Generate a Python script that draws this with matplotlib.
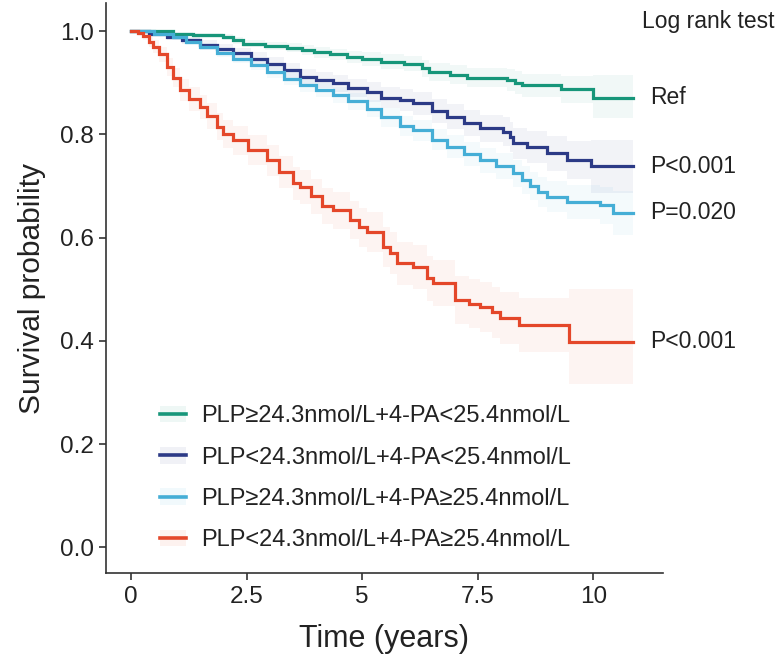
import matplotlib
matplotlib.use("Agg")
import matplotlib.pyplot as plt
from matplotlib.patches import Patch
from matplotlib.lines import Line2D
from matplotlib import font_manager
import numpy as np

# ---- data (step points of each KM curve) ----
labels = [
    "PLP\u226524.3nmol/L+4-PA<25.4nmol/L",
    "PLP<24.3nmol/L+4-PA<25.4nmol/L",
    "PLP\u226524.3nmol/L+4-PA\u226525.4nmol/L",
    "PLP<24.3nmol/L+4-PA\u226525.4nmol/L",
]
p_labels = ["Ref", "P<0.001", "P=0.020", "P<0.001"]
end_time = 10.85

green_t = [0, 0.9, 1.35, 2.0, 2.2, 2.43, 2.9, 3.37, 3.7, 3.95, 4.3, 4.67, 5.0,
           5.4, 5.9, 6.3, 6.45, 6.9, 7.27, 8.13, 8.3, 8.46, 9.29, 10.0]
green_s = [1.0, 0.995, 0.992, 0.988, 0.982, 0.976, 0.972, 0.968, 0.963, 0.959,
           0.955, 0.95, 0.946, 0.941, 0.937, 0.928, 0.921, 0.916, 0.91, 0.905,
           0.9, 0.895, 0.887, 0.871]
green_lo = [1.0, 0.991, 0.987, 0.982, 0.975, 0.969, 0.964, 0.959, 0.953, 0.949,
            0.944, 0.938, 0.933, 0.927, 0.922, 0.912, 0.904, 0.898, 0.891, 0.884,
            0.878, 0.872, 0.86, 0.831]
green_hi = [1.0, 0.999, 0.997, 0.994, 0.989, 0.983, 0.98, 0.977, 0.973, 0.969,
            0.966, 0.962, 0.959, 0.955, 0.952, 0.944, 0.938, 0.934, 0.929, 0.926,
            0.922, 0.918, 0.914, 0.915]

navy_t = [0, 0.4, 0.77, 1.1, 1.49, 1.85, 2.2, 2.6, 2.94, 3.3, 3.66, 4.0, 4.37,
          4.7, 5.1, 5.4, 5.82, 6.1, 6.5, 6.83, 7.2, 7.55, 8.05, 8.2, 8.27, 8.56,
          9.0, 9.43, 9.94]
navy_s = [1.0, 0.995, 0.989, 0.982, 0.973, 0.965, 0.957, 0.947, 0.937, 0.924,
          0.911, 0.905, 0.899, 0.89, 0.882, 0.871, 0.866, 0.86, 0.846, 0.834,
          0.822, 0.812, 0.805, 0.795, 0.783, 0.776, 0.763, 0.75, 0.738]
navy_lo = [1.0, 0.991, 0.983, 0.975, 0.964, 0.955, 0.946, 0.935, 0.924, 0.91,
           0.896, 0.889, 0.882, 0.872, 0.863, 0.851, 0.845, 0.838, 0.823, 0.81,
           0.797, 0.786, 0.777, 0.766, 0.753, 0.745, 0.73, 0.713, 0.686]
navy_hi = [1.0, 0.999, 0.995, 0.989, 0.982, 0.975, 0.968, 0.959, 0.95, 0.938,
           0.926, 0.921, 0.916, 0.908, 0.901, 0.891, 0.887, 0.882, 0.869, 0.858,
           0.847, 0.838, 0.833, 0.824, 0.813, 0.807, 0.796, 0.787, 0.789]

blue_t = [0, 0.5, 0.9, 1.2, 1.49, 1.85, 2.2, 2.6, 2.94, 3.3, 3.66, 4.0, 4.37,
          4.7, 5.1, 5.4, 5.82, 6.1, 6.5, 6.83, 7.2, 7.55, 7.9, 8.27, 8.45, 8.64,
          8.8, 9.0, 9.43, 10.15, 10.43]
blue_s = [1.0, 0.995, 0.988, 0.98, 0.97, 0.958, 0.947, 0.934, 0.921, 0.908,
          0.895, 0.886, 0.876, 0.864, 0.85, 0.833, 0.816, 0.808, 0.79, 0.776,
          0.762, 0.75, 0.738, 0.725, 0.712, 0.70, 0.688, 0.679, 0.669, 0.663, 0.648]
blue_lo = [1.0, 0.991, 0.983, 0.974, 0.963, 0.95, 0.938, 0.924, 0.91, 0.896,
           0.882, 0.872, 0.861, 0.848, 0.833, 0.815, 0.797, 0.788, 0.769, 0.754,
           0.739, 0.726, 0.713, 0.699, 0.685, 0.672, 0.659, 0.649, 0.637, 0.627, 0.605]
blue_hi = [1.0, 0.999, 0.993, 0.986, 0.977, 0.966, 0.956, 0.944, 0.932, 0.92,
           0.908, 0.9, 0.891, 0.88, 0.867, 0.851, 0.835, 0.828, 0.811, 0.798,
           0.785, 0.774, 0.763, 0.751, 0.739, 0.728, 0.717, 0.709, 0.701, 0.699, 0.691]

red_t = [0, 0.15, 0.27, 0.4, 0.48, 0.6, 0.77, 0.9, 1.06, 1.25, 1.49, 1.65, 1.85,
         2.0, 2.2, 2.53, 2.94, 3.2, 3.5, 3.66, 3.9, 4.13, 4.37, 4.74, 4.93, 5.1,
         5.46, 5.6, 5.75, 6.1, 6.4, 6.54, 7.0, 7.3, 7.55, 7.8, 7.99, 8.39, 9.47]
red_s = [1.0, 0.996, 0.99, 0.98, 0.97, 0.955, 0.931, 0.91, 0.886, 0.868, 0.853,
         0.835, 0.815, 0.8, 0.789, 0.769, 0.75, 0.727, 0.705, 0.698, 0.68, 0.662,
         0.653, 0.634, 0.62, 0.611, 0.582, 0.57, 0.55, 0.543, 0.521, 0.512, 0.479,
         0.472, 0.466, 0.455, 0.444, 0.43, 0.398]
red_lo = [1.0, 0.99, 0.982, 0.97, 0.958, 0.941, 0.914, 0.891, 0.865, 0.845, 0.829,
          0.81, 0.789, 0.773, 0.761, 0.74, 0.72, 0.696, 0.673, 0.665, 0.646, 0.627,
          0.617, 0.597, 0.582, 0.573, 0.543, 0.53, 0.509, 0.501, 0.478, 0.468, 0.433,
          0.425, 0.418, 0.406, 0.394, 0.378, 0.317]
red_hi = [1.0, 1.0, 0.998, 0.99, 0.982, 0.969, 0.948, 0.929, 0.907, 0.891, 0.877,
          0.86, 0.841, 0.827, 0.817, 0.798, 0.78, 0.758, 0.737, 0.731, 0.714, 0.697,
          0.689, 0.671, 0.658, 0.649, 0.621, 0.61, 0.591, 0.585, 0.564, 0.556, 0.525,
          0.519, 0.514, 0.504, 0.494, 0.482, 0.50]

colors = ["#17967a", "#2c3a86", "#45aed6", "#e4472a"]
series = [
    (green_t, green_s, green_lo, green_hi),
    (navy_t, navy_s, navy_lo, navy_hi),
    (blue_t, blue_s, blue_lo, blue_hi),
    (red_t, red_s, red_lo, red_hi),
]

names = {f.name for f in font_manager.fontManager.ttflist}
base_font = "Liberation Sans" if "Liberation Sans" in names else "DejaVu Sans"
plt.rcParams["font.family"] = [base_font, "DejaVu Sans"]

text_col = "#222222"
fig = plt.figure(figsize=(7.76, 6.64), dpi=100)
ax = fig.add_axes([0.1366, 0.137, 0.7174, 0.858])

handles = []
for (t, s, lo, hi), col in zip(series, colors):
    tt = np.append(t, end_time)
    ss = np.append(s, s[-1])
    ll = np.append(lo, lo[-1])
    hh = np.append(hi, hi[-1])
    ax.fill_between(tt, ll, hh, step="post", color=col, alpha=0.06, lw=0)
    ax.step(tt, ss, where="post", color=col, lw=2.3, solid_joinstyle="miter")
    handles.append((Patch(facecolor=col, alpha=0.07, edgecolor="none"),
                    Line2D([], [], color=col, lw=2.6)))

for (t, s, lo, hi), lab in zip(series, p_labels):
    ax.text(11.22, s[-1], lab, fontsize=16.5, color=text_col,
            ha="left", va="center", clip_on=False)

fig.text(0.998, 0.968, "Log rank test", fontsize=16.5, color=text_col,
         ha="right", va="center")

ax.set_xlim(-0.54, 11.5)
ax.set_ylim(-0.05, 1.054)
ax.set_xticks([0, 2.5, 5, 7.5, 10])
ax.set_xticklabels(["0", "2.5", "5", "7.5", "10"])
ax.set_yticks([0, 0.2, 0.4, 0.6, 0.8, 1.0])
ax.set_yticklabels(["0.0", "0.2", "0.4", "0.6", "0.8", "1.0"])

for side in ["top", "right"]:
    ax.spines[side].set_visible(False)
for side in ["left", "bottom"]:
    ax.spines[side].set_color("#333333")
    ax.spines[side].set_linewidth(1.2)
ax.tick_params(axis="both", length=5, width=1.2, color="#333333",
               labelsize=17.5, labelcolor=text_col, pad=4)

ax.set_xlabel("Time (years)", fontsize=22, color=text_col, labelpad=12)
ax.set_ylabel("Survival probability", fontsize=21.5, color=text_col, labelpad=10)

ax.legend(handles, labels, loc="lower left", bbox_to_anchor=(0.097, 0.038),
          frameon=False, fontsize=17, handlelength=1.1, handletextpad=0.65,
          labelspacing=0.82, borderpad=0, borderaxespad=0,
          labelcolor=text_col)

fig.savefig("out.png", dpi=100)
